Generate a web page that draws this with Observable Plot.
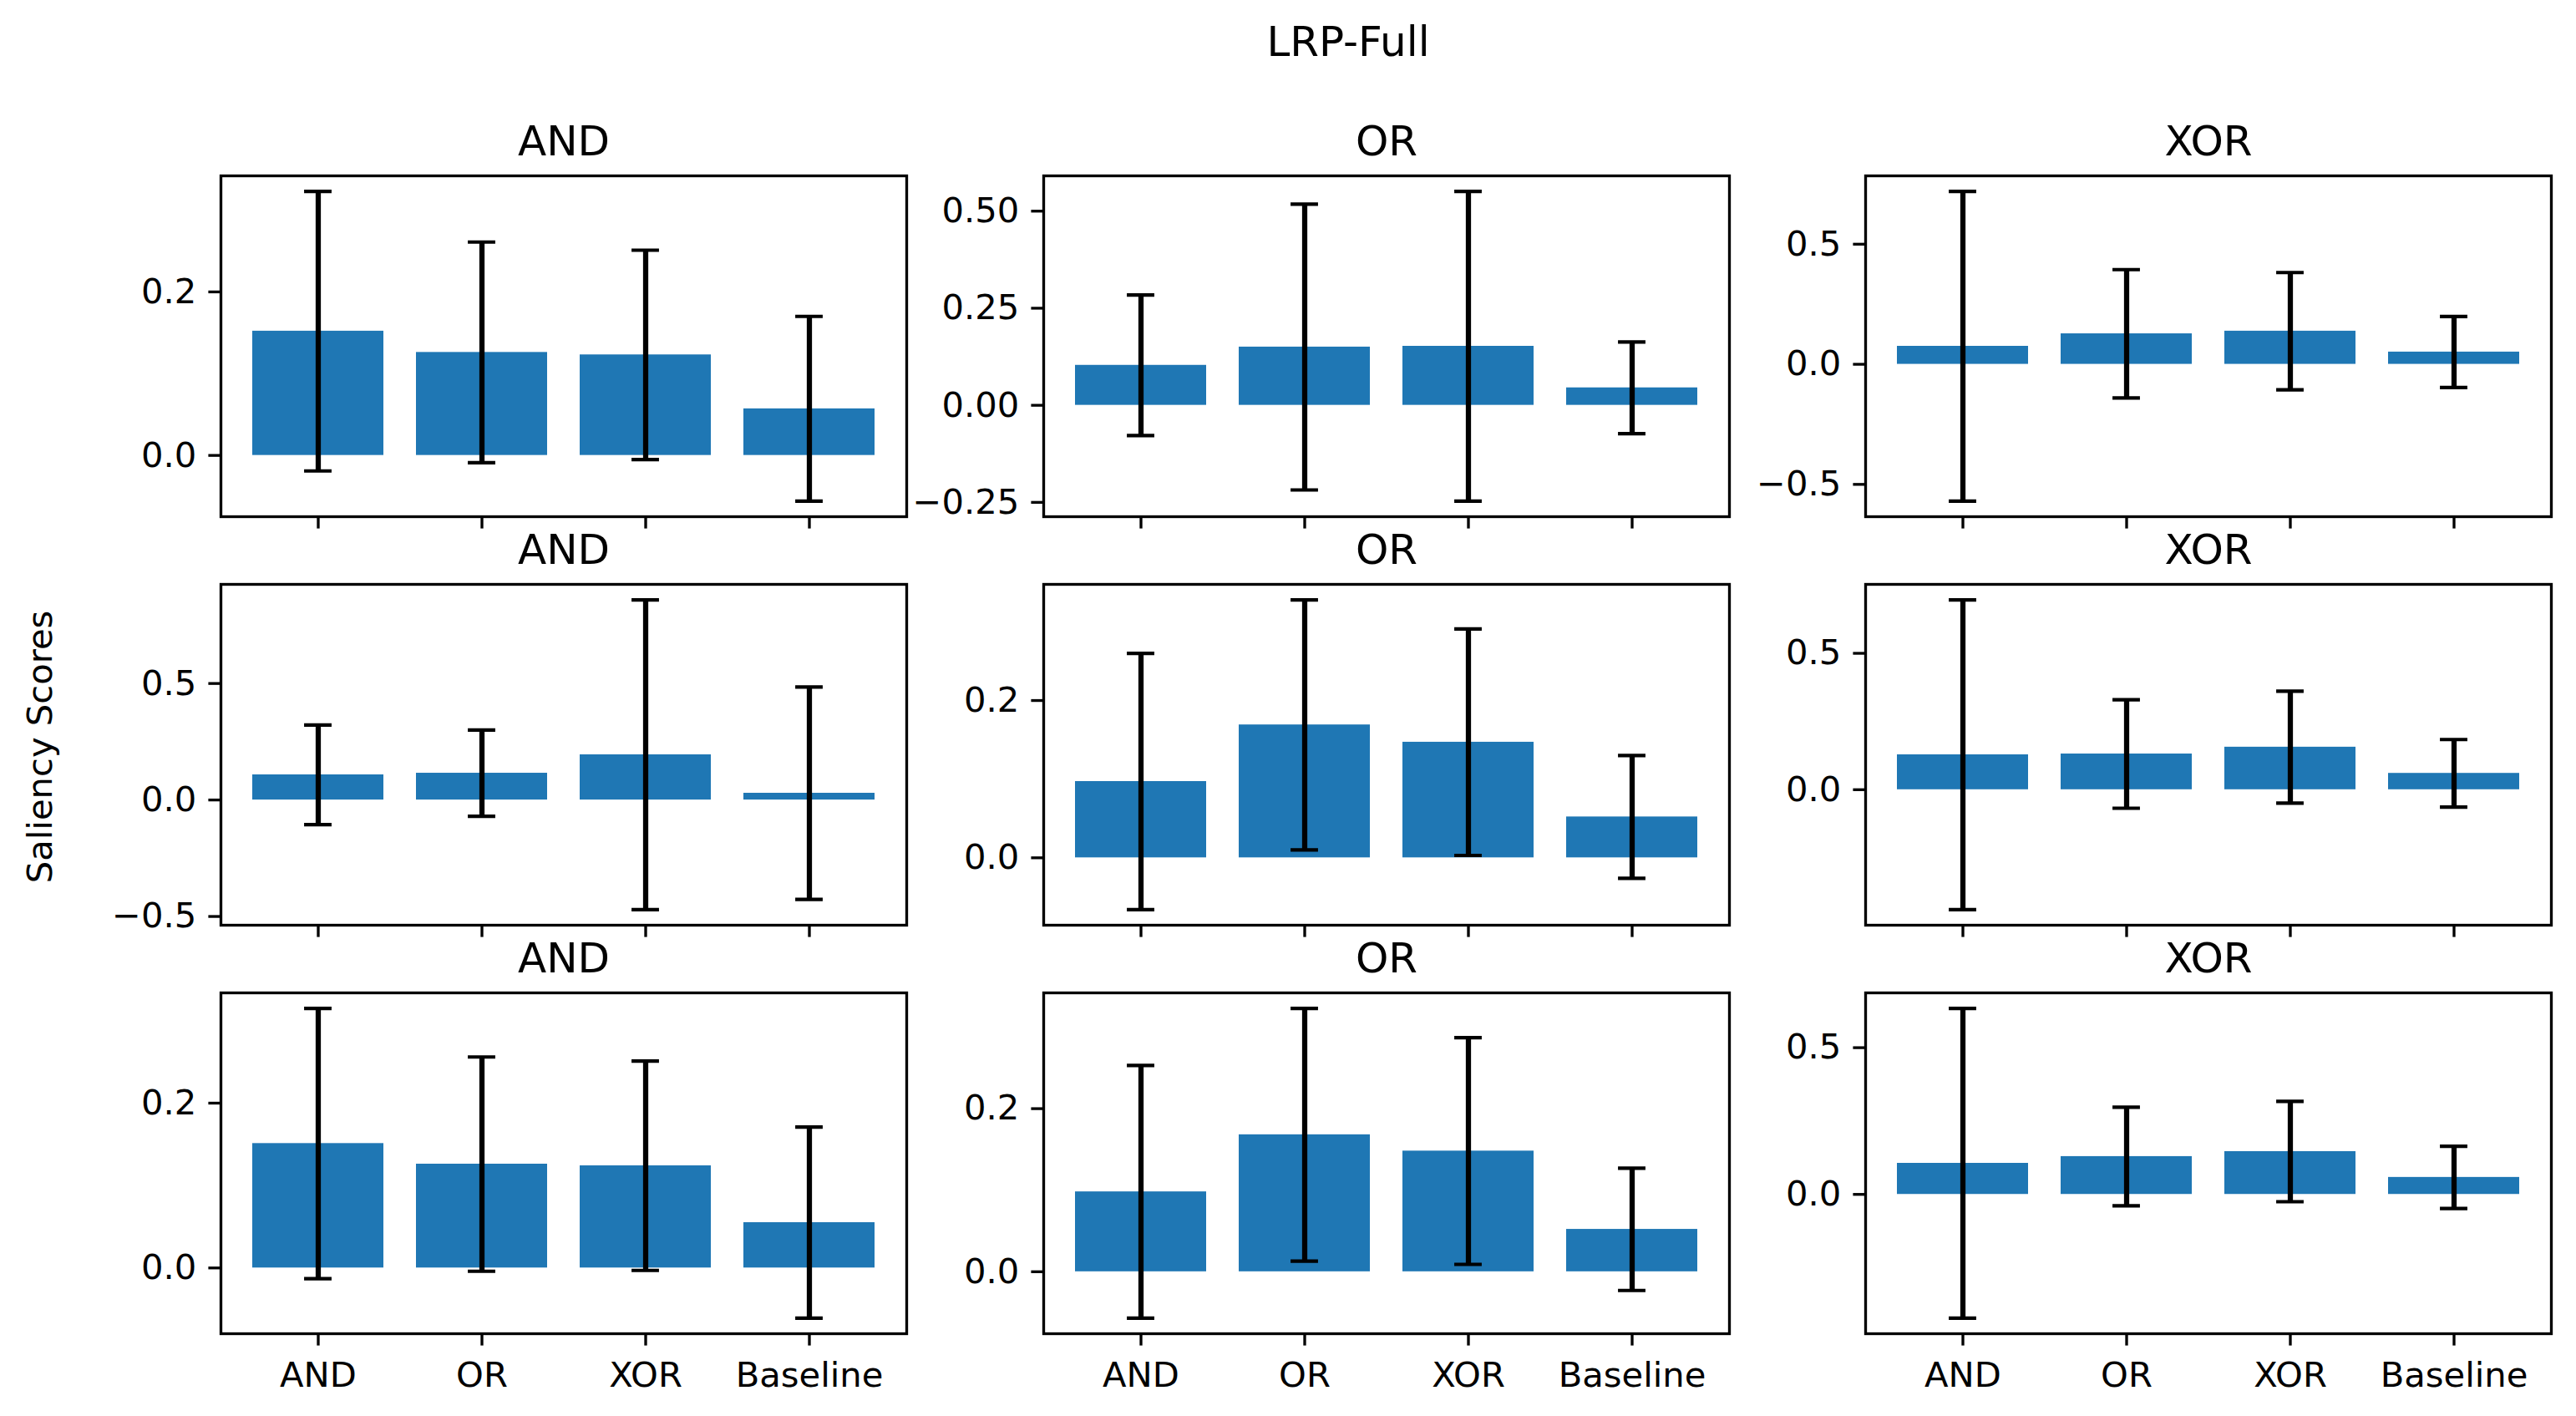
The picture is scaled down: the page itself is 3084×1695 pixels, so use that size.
<!DOCTYPE html>
<html>
<head>
<meta charset="utf-8">
<script src="https://cdn.jsdelivr.net/npm/d3@7"></script>
<script src="https://cdn.jsdelivr.net/npm/@observablehq/plot@0.6"></script>
<style>
  html, body { margin: 0; padding: 0; background: white; }
  #fig { position: relative; width: 3084px; height: 1695px; background: white; font-family: "DejaVu Sans", sans-serif; }
  .panel { position: absolute; }
  .suptitle { position: absolute; left: 1114px; top: 25px; width: 1000px; text-align: center; font-size: 50px; line-height: 1; color: black; }
  .ylabel { position: absolute; left: -252px; top: 873px; width: 600px; height: 42px; line-height: 42px; text-align: center; font-size: 41.7px; color: black; transform: rotate(-90deg); transform-origin: 50% 50%; }
</style>
</head>
<body>
<div id="fig">
  <div class="suptitle">LRP-Full</div>
  <div class="ylabel">Saliency Scores</div>
</div>
<script>
// ---- data ----
const categories = ["AND", "OR", "XOR", "Baseline"];
const columnTitles = ["AND", "OR", "XOR"];

// row 1
const r1AndMean = [0.152, 0.126, 0.123, 0.057];
const r1AndStd  = [0.171, 0.135, 0.128, 0.113];
const r1OrMean  = [0.103, 0.150, 0.152, 0.045];
const r1OrStd   = [0.181, 0.368, 0.399, 0.118];
const r1XorMean = [0.075, 0.127, 0.138, 0.051];
const r1XorStd  = [0.645, 0.267, 0.244, 0.148];
// row 2
const r2AndMean = [0.108, 0.115, 0.194, 0.029];
const r2AndStd  = [0.214, 0.185, 0.665, 0.456];
const r2OrMean  = [0.097, 0.169, 0.147, 0.052];
const r2OrStd   = [0.163, 0.159, 0.144, 0.078];
const r2XorMean = [0.128, 0.131, 0.156, 0.060];
const r2XorStd  = [0.568, 0.199, 0.205, 0.124];
// row 3
const r3AndMean = [0.151, 0.126, 0.124, 0.055];
const r3AndStd  = [0.164, 0.130, 0.127, 0.116];
const r3OrMean  = [0.098, 0.168, 0.148, 0.052];
const r3OrStd   = [0.155, 0.155, 0.139, 0.075];
const r3XorMean = [0.106, 0.129, 0.146, 0.058];
const r3XorStd  = [0.528, 0.168, 0.171, 0.106];

// y tick values and labels per panel
const r1AndTicks = [0, 0.2];            const r1AndLabels = ["0.0", "0.2"];
const r1OrTicks  = [-0.25, 0, 0.25, 0.5]; const r1OrLabels = ["\u22120.25", "0.00", "0.25", "0.50"];
const r1XorTicks = [-0.5, 0, 0.5];      const r1XorLabels = ["\u22120.5", "0.0", "0.5"];
const r2AndTicks = [-0.5, 0, 0.5];      const r2AndLabels = ["\u22120.5", "0.0", "0.5"];
const r2OrTicks  = [0, 0.2];            const r2OrLabels  = ["0.0", "0.2"];
const r2XorTicks = [0, 0.5];            const r2XorLabels = ["0.0", "0.5"];
const r3AndTicks = [0, 0.2];            const r3AndLabels = ["0.0", "0.2"];
const r3OrTicks  = [0, 0.2];            const r3OrLabels  = ["0.0", "0.2"];
const r3XorTicks = [0, 0.5];            const r3XorLabels = ["0.0", "0.5"];

const panels = [
  [[r1AndMean, r1AndStd, r1AndTicks, r1AndLabels], [r1OrMean, r1OrStd, r1OrTicks, r1OrLabels], [r1XorMean, r1XorStd, r1XorTicks, r1XorLabels]],
  [[r2AndMean, r2AndStd, r2AndTicks, r2AndLabels], [r2OrMean, r2OrStd, r2OrTicks, r2OrLabels], [r2XorMean, r2XorStd, r2XorTicks, r2XorLabels]],
  [[r3AndMean, r3AndStd, r3AndTicks, r3AndLabels], [r3OrMean, r3OrStd, r3OrTicks, r3OrLabels], [r3XorMean, r3XorStd, r3XorTicks, r3XorLabels]]
];

// ---- layout ----
const colLeft = [264, 1249, 2233];
const rowTop = [210, 699, 1188];
const axW = 821, axH = 408;
const mL = 170, mR = 20, mT = 80, mB = 90;
const blue = "#1f77b4";
const tickLen = 14.6, tickPad = 14.6, tickW = 3.33;
const capHalf = 16.5;

const fig = document.getElementById("fig");

panels.forEach((row, ri) => {
  row.forEach(([means, stds, ticks, labels], ci) => {
    const data = categories.map((c, i) => ({cat: c, mean: means[i], std: stds[i]}));
    let lo = Math.min(0, d3.min(data, d => d.mean - d.std));
    let hi = Math.max(0, d3.max(data, d => d.mean + d.std));
    const pad = (hi - lo) * 0.05;
    lo -= pad; hi += pad;
    const labelMap = new Map(ticks.map((t, i) => [t, labels[i]]));
    const step = axW / 4.18;
    const bw = step * 0.8;
    const inset = bw / 2 - capHalf;
    const bottomRow = ri === 2;

    const chart = Plot.plot({
      width: axW + mL + mR,
      height: axH + mT + mB,
      marginLeft: mL, marginRight: mR, marginTop: mT, marginBottom: mB,
      style: {fontFamily: "DejaVu Sans", fontSize: "41.7px", background: "transparent", overflow: "visible", color: "black"},
      x: {type: "band", domain: categories, paddingInner: 0.2, paddingOuter: 0.19, align: 0.5},
      y: {domain: [lo, hi]},
      marks: [
        Plot.barY(data, {x: "cat", y1: 0, y2: "mean", fill: blue}),
        Plot.ruleX(data, {x: "cat", y1: d => d.mean - d.std, y2: d => d.mean + d.std, stroke: "black", strokeWidth: 6.25}),
        Plot.tickY(data, {x: "cat", y: d => d.mean + d.std, stroke: "black", strokeWidth: 4.17, insetLeft: inset, insetRight: inset}),
        Plot.tickY(data, {x: "cat", y: d => d.mean - d.std, stroke: "black", strokeWidth: 4.17, insetLeft: inset, insetRight: inset}),
        Plot.frame({stroke: "black", strokeWidth: tickW}),
        Plot.axisY(ticks, {tickSize: tickLen, tickPadding: tickPad, strokeWidth: tickW, fontSize: 41.7, tickFormat: d => labelMap.get(d), label: null}),
        Plot.axisX({tickSize: tickLen, tickPadding: 19, strokeWidth: tickW, fontSize: 41.7, tickFormat: bottomRow ? (d => d) : (() => ""), label: null}),
        Plot.text([columnTitles[ci]], {frameAnchor: "top", dy: -25, lineAnchor: "bottom", fontSize: 50, text: d => d, fill: "black"})
      ]
    });
    const wrap = document.createElement("div");
    wrap.className = "panel";
    wrap.style.left = (colLeft[ci] - mL) + "px";
    wrap.style.top = (rowTop[ri] - mT) + "px";
    wrap.appendChild(chart);
    fig.appendChild(wrap);
  });
});
</script>
</body>
</html>
